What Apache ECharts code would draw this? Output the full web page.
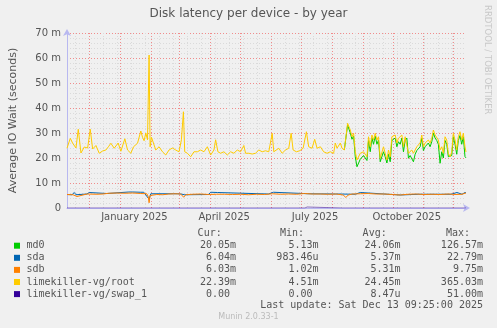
<!DOCTYPE html>
<html>
<head>
<meta charset="utf-8">
<script src="https://cdn.jsdelivr.net/npm/echarts@6/dist/echarts.min.js"></script>
<style>
html,body{margin:0;padding:0;background:#f0f0f0;}
#chart{width:497px;height:328px;}
</style>
</head>
<body>
<div id="chart"></div>
<script>
// ---- time range (400 days ending Sat Dec 13 09:25:00 2025) ----
const START = Date.UTC(2024, 10, 8, 9, 25);
const END = Date.UTC(2025, 11, 13, 9, 25);
const DAY = 86400000;

// ---- x axis labels (centered mid-month) ----
const xLabelDates = ['2025-01-15', '2025-04-15', '2025-07-15', '2025-10-15'];
const xLabelTexts = ['January 2025', 'April 2025', 'July 2025', 'October 2025'];

// ---- y axis ticks (milliseconds) ----
const yMax = 70;

// ---- series: day offsets from START and values in ms ----
const rootDays = [0,3.3,5.7,9,11.3,14,17.3,20.7,23.3,25.7,29,32.3,35.7,39,41.5,44,47.3,51.3,54,58,60.7,64,66.7,70.7,74,75.7,77.3,79,80.7,82.3,83.3,84.7,86.7,89,92.3,95.7,99,102.3,105.7,109,112.3,114.7,116.7,118,120.7,124,127.3,130.7,134,137.3,140.7,144,147.3,149,151.3,154,157.3,160.7,164,167.3,170.7,174,177.3,179,182.3,185.7,189,192.3,195.7,199,202.3,205.7,207.3,209,212.3,215.7,219,222.3,224.7,226.7,230,233.3,236.7,240,242.3,245.7,248.3,250.7,254,257.3,260.7,264,267.3,269,270.7,274,275.7,278,281.3,284,285.7,287.3,289,290.7,294,297.3,300.7,302.3,304,305.7,307.3,309,310.7,312.3,314,317.3,319,320.7,322.3,324,325.7,327.3,329,330.7,332.3,334,335.7,337.3,339,340.7,342.3,344,345.7,347.3,349,350.7,352.3,354,355.7,357.3,359,360.7,362.3,364,365.7,367.3,369,370.7,372.3,374,375.7,377.3,379,380.7,382.3,384,385.7,387.3,389,390.7,392.3,394,395.7,397.3,399,400];
const rootVals = [23.9,27.9,25.9,24,31.5,22,24.4,24,31.5,23.6,25,21.9,22.8,23.2,24.5,25.9,23.9,26,22.7,27.7,23.2,21.9,24.5,25.9,30.8,28.3,26.9,30,27.3,61.2,24.5,28.3,29,23.2,24.5,22.5,21.2,23.2,24,23.2,22.5,27.3,38.5,22.5,21.9,20.5,22.5,22.5,23.2,22.5,24.5,21.2,23.2,27.3,22.5,21.9,22.5,21.2,22.5,21.9,23.2,22.5,25,21.9,21.9,21.6,21.9,23.2,22.5,22.9,22.5,29.9,22.5,21.9,23.9,21.9,23.2,23.9,29.9,23.2,22.5,22.9,23.9,30.5,24.5,23.9,27.5,23.9,24.5,22.5,21.9,22.5,21.9,26,23.9,26,23.9,23.2,33.9,31.2,28.5,29.9,22.5,19.2,21.9,22.5,20.5,28.5,24.5,29.2,27.2,29.9,27.2,28.5,19.9,24.5,21.9,19.2,23.2,20.5,28.5,27.9,29.2,26,27.9,27.2,29.2,24.5,28.5,29.2,21.9,22.5,23.2,21.9,23.2,24.5,23.9,26,29.2,24.5,26,25.3,27.2,26,27.9,31.2,29.2,28.5,27.2,23.2,24.5,21.9,28.5,27.2,21.9,20.5,22.5,29.9,27.2,23.2,28.5,30.5,27.2,29.9,24.5,22.39];

const md0Days = [278,281.3,284,285.7,287.3,289,290.7,294,297.3,300.7,302.3,304,305.7,307.3,309,310.7,312.3,314,317.3,319,320.7,322.3,324,325.7,327.3,329,330.7,332.3,334,335.7,337.3,339,340.7,342.3,344,345.7,347.3,349,350.7,352.3,354,355.7,357.3,359,360.7,362.3,364,365.7,367.3,369,370.7,372.3,374,375.7,377.3,379,380.7,382.3,384,385.7,387.3,389,390.7,392.3,394,395.7,397.3,399,400];
const md0Vals = [23.2,33.2,30.0,27.5,28.8,20.5,16.5,19.5,21.0,19.0,27.0,22.5,28.0,25.5,28.8,25.5,27.2,18.5,22.5,20.5,18.0,21.5,18.5,27.0,26.5,28.0,24.5,26.5,25.5,28.0,22.5,27.0,28.0,19.9,21.0,21.5,18.5,21.5,23.0,22.5,24.5,28.0,23.0,24.5,24.0,26.0,24.5,26.5,30.0,28.0,27.0,25.5,17.9,22.5,20.0,27.0,25.5,20.5,19.9,21.0,28.5,25.5,21.5,27.0,29.0,25.5,28.5,20.5,20.05];

const sdbDays = [0,6,10,12,20,30,36,42,50,58,66,74,80,81.5,82.3,83.3,84.5,90,96,102,108,114,117,119,126,134,142,150,158,166,174,182,190,198,206,214,222,230,238,246,254,262,270,277,279.5,282,286,294,302,310,318,326,334,342,350,358,366,374,382,390,396,400];
const sdbVals = [5.4,5.3,4.6,5.4,5.6,5.5,5.6,5.9,6.0,5.9,6.0,5.8,5.7,4.5,2.1,5.0,5.7,5.4,5.3,5.6,5.7,5.6,4.3,5.3,5.5,5.6,5.4,5.5,5.5,5.4,5.5,5.3,5.5,5.4,5.7,5.5,5.6,5.5,5.8,5.6,5.6,5.5,5.6,5.2,4.2,5.2,5.6,5.7,5.8,5.6,5.6,5.4,5.2,5.5,5.6,5.4,5.5,5.4,5.6,5.4,5.5,6.03];

const sdaDays = [0,5,7.3,9,20,22.3,24,40,62,66,68,74,77,79,82.3,84,107,109,111,114,116,118,142,144,146,151,153,202,204,207,209,237,239,241,269,270.7,272,289,291,294,296,330,332,334,352,354,356,385,386,391,393,396,397,399,400];
const sdaVals = [5.4,5.3,6.2,5.3,5.6,6.2,5.6,5.8,6.4,6.4,6.0,6.3,6.3,5.7,3.5,5.7,5.7,6.3,5.7,5.6,5.0,5.3,5.4,6.3,5.5,6.2,5.5,5.6,6.4,6.3,5.6,5.8,6.5,5.7,5.6,6.2,5.6,5.5,6.3,6.2,5.7,5.3,5.9,5.2,5.5,6.2,5.5,5.5,6.2,6.2,5.5,5.5,6.3,6.2,6.04];

const swapDays = [0,238.5,240.7,242,276,278,279.5,400];
const swapVals = [0,0,0.4,0,0,0.4,0,0];

// ---- legend table ----
const legNames = ['md0','sda','sdb','limekiller-vg/root','limekiller-vg/swap_1'];
const legColors = ['#00CC00','#0066B3','#FF8000','#FFCC00','#330099'];
const legCur = ['20.05m','6.04m','6.03m','22.39m','0.00 '];
const legMin = ['5.13m','983.46u','1.02m','4.51m','0.00 '];
const legAvg = ['24.06m','5.37m','5.31m','24.45m','8.47u'];
const legMax = ['126.57m','22.79m','9.75m','365.03m','51.00m'];

const toT = d => START + d * DAY;
const pairs = (ds, vs) => ds.map((d, i) => [toT(d), vs[i]]);

// grid line positions (month starts and fortnightly Sundays)
const monthLines = [];
for (let k = 0; k < 14; k++) {
  const t = Date.UTC(2024, 11 + k, 1);
  if (t > START && t < END) monthLines.push(t);
}
const weekLines = [];
for (let t = Date.UTC(2024, 10, 17); t < END; t += 14 * DAY) weekLines.push(t);

const labelTimes = xLabelDates.map(s => Date.parse(s + 'T00:00:00Z'));

const GRAY = '#dadada', RED = '#f08c8c', TXT = '#555555';
const mono = '10px "DejaVu Sans Mono"';

const graphics = [];
[['Cur:', 221.7], ['Min:', 304], ['Avg:', 386.7], ['Max:', 470]].forEach(([t, x]) => {
  graphics.push({type: 'text', x: x, y: 233.3, style: {text: t, font: mono, fill: TXT, align: 'right', verticalAlign: 'middle'}});
});
legNames.forEach((n, i) => {
  const y = 245.7 + i * 12.1;
  graphics.push({type: 'rect', shape: {x: 14, y: y - 3, width: 6, height: 6}, style: {fill: legColors[i]}});
  graphics.push({type: 'text', x: 26.5, y: y, style: {text: n, font: mono, fill: TXT, align: 'left', verticalAlign: 'middle'}});
  [[legCur, 236], [legMin, 318.5], [legAvg, 400.5], [legMax, 483]].forEach(([arr, x]) => {
    graphics.push({type: 'text', x: x, y: y, style: {text: arr[i], font: mono, fill: TXT, align: 'right', verticalAlign: 'middle'}});
  });
});
graphics.push({type: 'text', x: 483, y: 305.8, style: {text: 'Last update: Sat Dec 13 09:25:00 2025', font: mono, fill: TXT, align: 'right', verticalAlign: 'middle'}});
graphics.push({type: 'text', x: 248.5, y: 317.3, style: {text: 'Munin 2.0.33-1', font: '8px "DejaVu Sans"', fill: '#bbbbbb', align: 'center', verticalAlign: 'middle'}});
graphics.push({type: 'text', x: 487, y: 5, rotation: -Math.PI / 2, style: {text: 'RRDTOOL / TOBI OETIKER', font: '8.5px "DejaVu Sans"', fill: '#c8c8c8', align: 'left', verticalAlign: 'middle'}});

const chart = echarts.init(document.getElementById('chart'), null, {renderer: 'canvas'});
const lineSeries = (name, ds, vs, color, z, op) => ({
  name, type: 'line', data: pairs(ds, vs), showSymbol: false, symbol: 'none', z: z,
  xAxisIndex: 0, yAxisIndex: 1,
  lineStyle: {color: color, width: 1, opacity: op == null ? 1 : op}, itemStyle: {color: color}, animation: false
});
const gridAxis = (vals, color) => ({
  type: 'value', min: START, max: END, position: 'bottom',
  axisLine: {show: false}, axisLabel: {show: false},
  axisTick: {show: false, customValues: vals},
  splitLine: {show: true, lineStyle: {color: color, width: 1, type: [1, 2]}}
});
chart.setOption({
  backgroundColor: '#f0f0f0',
  animation: false,
  title: {
    text: 'Disk latency per device - by year', left: 'center', top: 3,
    textStyle: {fontFamily: 'DejaVu Sans', fontSize: 12, fontWeight: 'normal', color: TXT}
  },
  grid: {left: 66, right: 31, top: 33, bottom: 120, containLabel: false},
  xAxis: [
    {
      type: 'value', min: START, max: END, position: 'bottom', z: 3,
      axisLine: {show: true, lineStyle: {color: '#b8b8f0', width: 1}, symbol: ['none', 'arrow'], symbolSize: [6, 7], symbolOffset: [0, 4]},
      axisTick: {show: false},
      splitLine: {show: false},
      axisLabel: {
        customValues: labelTimes, margin: 4, showMinLabel: true, showMaxLabel: true,
        fontFamily: 'DejaVu Sans', fontSize: 10, color: TXT, hideOverlap: false,
        formatter: v => { const i = labelTimes.indexOf(v); return i >= 0 ? xLabelTexts[i] : ''; }
      }
    },
    gridAxis(weekLines, GRAY),
    gridAxis(monthLines, RED)
  ],
  yAxis: [
    {
      type: 'value', min: 0, max: yMax, interval: 2, position: 'left',
      axisLine: {show: false}, axisTick: {show: false}, axisLabel: {show: false},
      splitLine: {show: true, lineStyle: {color: GRAY, width: 1, type: [1, 2]}}
    },
    {
      type: 'value', min: 0, max: yMax, interval: 10, position: 'left',
      name: 'Average IO Wait (seconds)', nameLocation: 'middle', nameGap: 48,
      nameTextStyle: {fontFamily: 'DejaVu Sans', fontSize: 11, color: TXT},
      axisLine: {show: true, lineStyle: {color: '#b8b8f0', width: 1}, symbol: ['none', 'arrow'], symbolSize: [6, 7], symbolOffset: [0, 4]},
      axisTick: {show: false},
      axisLabel: {margin: 6, fontFamily: 'DejaVu Sans', fontSize: 10, color: TXT,
        formatter: v => v === 0 ? '0' : v + ' m'},
      splitLine: {show: true, lineStyle: {color: RED, width: 1, type: [1, 2]}}
    }
  ],
  series: [
    lineSeries('md0', md0Days, md0Vals, '#00CC00', 3),
    lineSeries('sda', sdaDays, sdaVals, '#0066B3', 4),
    lineSeries('sdb', sdbDays, sdbVals, '#FF8000', 5),
    lineSeries('limekiller-vg/root', rootDays, rootVals, '#FFCC00', 6),
    lineSeries('limekiller-vg/swap_1', swapDays, swapVals, '#330099', 7, 0.55)
  ],
  graphic: graphics
});
</script>
</body>
</html>
